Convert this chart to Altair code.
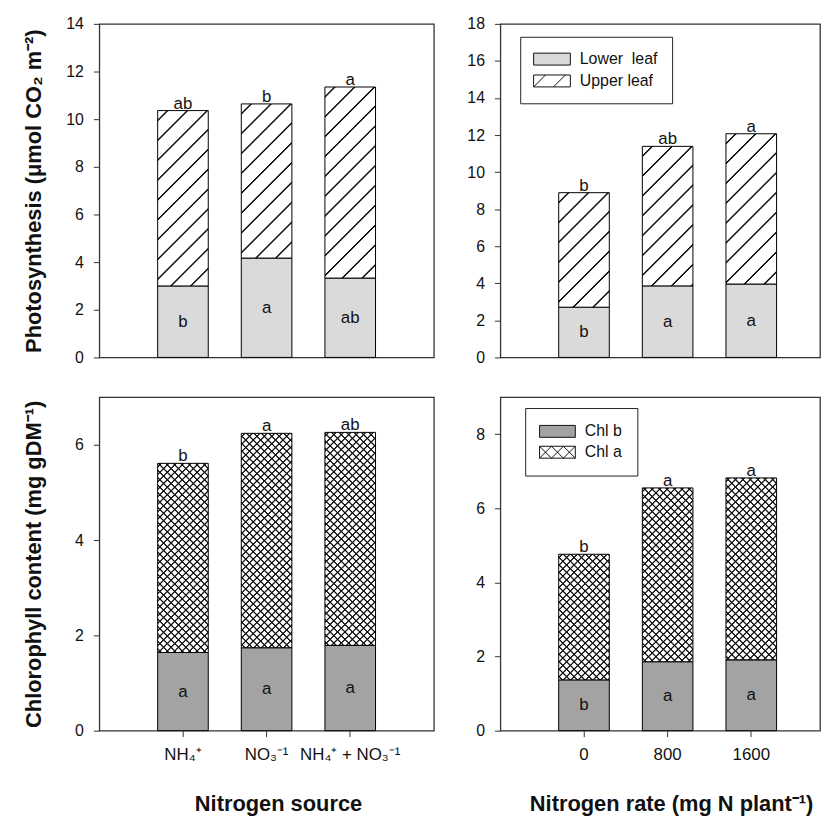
import math
import altair as alt
import pandas as pd

# ---------------- data ----------------
sources = ["NH₄⁺", "NO₃⁻¹", "NH₄⁺ + NO₃⁻¹"]
rates = ["0", "800", "1600"]

ps_lower = [3.00, 4.17, 3.33]
ps_total = [10.36, 10.64, 11.35]
ps_top = ["ab", "b", "a"]
ps_low = ["b", "a", "ab"]

pr_lower = [2.71, 3.86, 3.96]
pr_total = [8.89, 11.39, 12.07]
pr_top = ["b", "ab", "a"]
pr_low = ["b", "a", "a"]

cs_lower = [1.64, 1.74, 1.79]
cs_total = [5.61, 6.24, 6.26]
cs_top = ["b", "a", "ab"]
cs_low = ["a", "a", "a"]

cr_lower = [1.37, 1.86, 1.91]
cr_total = [4.76, 6.55, 6.82]
cr_top = ["b", "a", "a"]
cr_low = ["b", "a", "a"]

photo_parts = ["Lower\u00a0 leaf", "Upper leaf"]
chl_parts = ["Chl b", "Chl a"]

ps_ticks = [0, 2, 4, 6, 8, 10, 12, 14]
pr_ticks = [0, 2, 4, 6, 8, 10, 12, 14, 16, 18]
cs_ticks = [0, 2, 4, 6]
cr_ticks = [0, 2, 4, 6, 8]

# ---------------- styling ----------------
FONT = "Liberation Sans"
H = 336
W_LEFT = 337
W_RIGHT = 322
P_IN = 0.395
STEP = W_LEFT / 4.0
BAR_W = STEP * (1 - P_IN)
OUTER_LEFT = 1 - (1 - P_IN) / 2          # first centre one step from the axis
OUT_R = (W_RIGHT / STEP - (3 - P_IN)) / 2
ALIGN_R = OUTER_LEFT / (2 * OUT_R)

LOWER_GRAY = "#dadada"
CHLB_GRAY = "#a3a3a3"
INK = "#111111"
CLEAR = "rgba(17,17,17,0)"


def hatch(w, h, period, core, direction, bg, ramp=1.0):
    """diagonal stripes as a linear gradient with soft edges (units: x+y pixels)"""
    L = w + h
    k = L / (w * w + h * h)
    if direction == "/":
        x1, y1, x2, y2 = 0, 0, k * w, k * h
    else:
        x1, y1, x2, y2 = 0, 1, k * w, 1 - k * h
    stops = [{"offset": 0, "color": bg}]
    s = period / 2
    while s < L:
        pts = [(s - core - ramp, bg), (s - core, INK),
               (s + core, INK), (s + core + ramp, bg)]
        for v, c in pts:
            stops.append({"offset": round(min(1.0, max(0.0, v / L)), 6), "color": c})
        s += period
    stops.append({"offset": 1, "color": bg})
    return {"gradient": "linear", "x1": round(x1, 6), "y1": round(y1, 6),
            "x2": round(x2, 6), "y2": round(y2, 6), "stops": stops}


RECT_P = "M-2.3125,-0.75H2.3125V0.75H-2.3125Z"
UPPER_P = RECT_P + "M-2.3125,0.75L-0.8125,-0.75M0.1875,0.75L1.6875,-0.75"
RECT_C = "M-2.25,-0.75H2.25V0.75H-2.25Z"
CHLA_P = (RECT_C + "M-2.25,-0.75L-0.75,0.75M-0.75,-0.75L0.75,0.75M0.75,-0.75L2.25,0.75"
          "M-2.25,0.75L-0.75,-0.75M-0.75,0.75L0.75,-0.75M0.75,0.75L2.25,-0.75")


def panel(cats, lower, total, top, low, ymax, yticks, width, outer, align,
          kind, ytitle, xtitle, xtitle_x, legend_opts):
    df = pd.DataFrame({"cat": cats, "i": [0, 1, 2], "lower": lower,
                       "total": total, "top": top, "low": low})
    if xtitle is None:
        xaxis = None
    else:
        xaxis = alt.Axis(title=xtitle, titleFontSize=22, titleFontWeight="bold",
                         titleX=xtitle_x, titleY=73, titleBaseline="middle",
                         labelFontSize=17, labelPadding=10, tickSize=6,
                         labelAngle=0, labelOverlap=False, domain=False, grid=False,
                         tickColor="#333333", labelColor=INK, titleColor=INK)
    xenc = alt.X("cat:N", sort=cats,
                 scale=alt.Scale(paddingInner=P_IN, paddingOuter=outer, align=align),
                 axis=xaxis)
    yscale = alt.Scale(domain=[0, ymax], nice=False, zero=True)
    if ytitle is None:
        yaxis = alt.Axis(values=yticks, title=None, labelFontSize=16, labelPadding=10,
                         tickSize=6, domain=False, grid=False, tickColor="#333333",
                         labelColor=INK)
    else:
        yaxis = alt.Axis(values=yticks, title=ytitle, titleFontSize=22,
                         titleFontWeight="bold", titleX=-66, titleY=H / 2,
                         titleBaseline="middle", titleAngle=270, titleColor=INK,
                         labelFontSize=16, labelPadding=10, tickSize=6, domain=False,
                         grid=False, tickColor="#333333", labelColor=INK)

    def Y(f):
        return alt.Y(f, scale=yscale, axis=yaxis)

    base = alt.Chart(df)
    lower_color = LOWER_GRAY if kind == "photo" else CHLB_GRAY
    layers = [base.mark_bar(fill=lower_color, stroke="black", strokeWidth=1)
              .encode(x=xenc, y=Y("lower:Q"))]
    px = H / ymax
    for j in range(3):
        h = (total[j] - lower[j]) * px
        sub = base.transform_filter(alt.datum.i == j)
        if kind == "photo":
            layers.append(sub.mark_bar(fill=hatch(BAR_W, h, 20, 0.55, "/", "#ffffff"),
                                       stroke="black", strokeWidth=1)
                          .encode(x=xenc, y=Y("total:Q"), y2="lower:Q"))
        else:
            layers.append(sub.mark_bar(fill=hatch(BAR_W, h, 7.5, 0.4, "/", "#ffffff"),
                                       strokeWidth=0)
                          .encode(x=xenc, y=Y("total:Q"), y2="lower:Q"))
            layers.append(sub.mark_bar(fill=hatch(BAR_W, h, 7.5, 0.4, "\\", CLEAR),
                                       stroke="black", strokeWidth=1)
                          .encode(x=xenc, y=Y("total:Q"), y2="lower:Q"))
    layers.append(base.mark_text(baseline="alphabetic", dy=-2, fontSize=17, color=INK)
                  .encode(x=xenc, y=Y("total:Q"), text="top:N"))
    layers.append(base.transform_calculate(mid="datum.lower / 2")
                  .mark_text(baseline="middle", fontSize=17, color=INK)
                  .encode(x=xenc, y=Y("mid:Q"), text="low:N"))

    if legend_opts is not None:
        parts, colors, paths, lx, ly, pad, soff, loff, rpad = legend_opts
        leg = alt.Legend(title=None, orient="none", legendX=lx, legendY=ly,
                         strokeColor="#222222", fillColor="white", padding=pad,
                         symbolSize=256, symbolOffset=soff, labelOffset=loff,
                         rowPadding=rpad, labelFontSize=16, labelFont=FONT,
                         labelColor=INK, symbolOpacity=1, symbolStrokeWidth=1)
        ldf = pd.DataFrame({"part": parts})
        layers.append(alt.Chart(ldf).mark_point(filled=True, opacity=0, strokeWidth=1)
                      .encode(fill=alt.Fill("part:N", scale=alt.Scale(domain=parts, range=colors), legend=leg),
                              stroke=alt.Stroke("part:N", scale=alt.Scale(domain=parts, range=[INK, INK]), legend=leg),
                              shape=alt.Shape("part:N", scale=alt.Scale(domain=parts, range=paths), legend=leg)))
    return alt.layer(*layers).properties(width=width, height=H)


p1 = panel(sources, ps_lower, ps_total, ps_top, ps_low, 14, ps_ticks, W_LEFT,
           OUTER_LEFT, 0.5, "photo", "Photosynthesis (μmol CO₂ m⁻²)", None, None, None)
p2 = panel(rates, pr_lower, pr_total, pr_top, pr_low, 18, pr_ticks, W_RIGHT,
           OUT_R, ALIGN_R, "photo", None, None, None,
           (photo_parts, [LOWER_GRAY, "white"], [RECT_P, UPPER_P], 20, 13, 14, 9.5, 19.5, 5))
p3 = panel(sources, cs_lower, cs_total, cs_top, cs_low, 7, cs_ticks, W_LEFT,
           OUTER_LEFT, 0.5, "chl", "Chlorophyll content (mg gDM⁻¹)", "Nitrogen source", 180, None)
p4 = panel(rates, cr_lower, cr_total, cr_top, cr_low, 9, cr_ticks, W_RIGHT,
           OUT_R, ALIGN_R, "chl", None, "Nitrogen rate (mg N plant⁻¹)", 172,
           (chl_parts, [CHLB_GRAY, "white"], [RECT_C, CHLA_P], 25, 11, 15, 9, 19, 4))

chart = (alt.concat(p1, p2, p3, p4, columns=2, bounds="flush",
                    spacing={"row": 40, "column": 67})
         .resolve_scale(fill="independent", stroke="independent", shape="independent")
         .resolve_legend(fill="independent", stroke="independent", shape="independent")
         .properties(padding={"left": 14, "top": 4, "right": 0, "bottom": 0})
         .configure(font=FONT)
         .configure_view(stroke="#333333", strokeWidth=1.3)
         .configure_axis(labelFont=FONT, titleFont=FONT)
         .configure_text(font=FONT))

chart.save("out.html", embed_options={"renderer": "svg", "actions": False})
